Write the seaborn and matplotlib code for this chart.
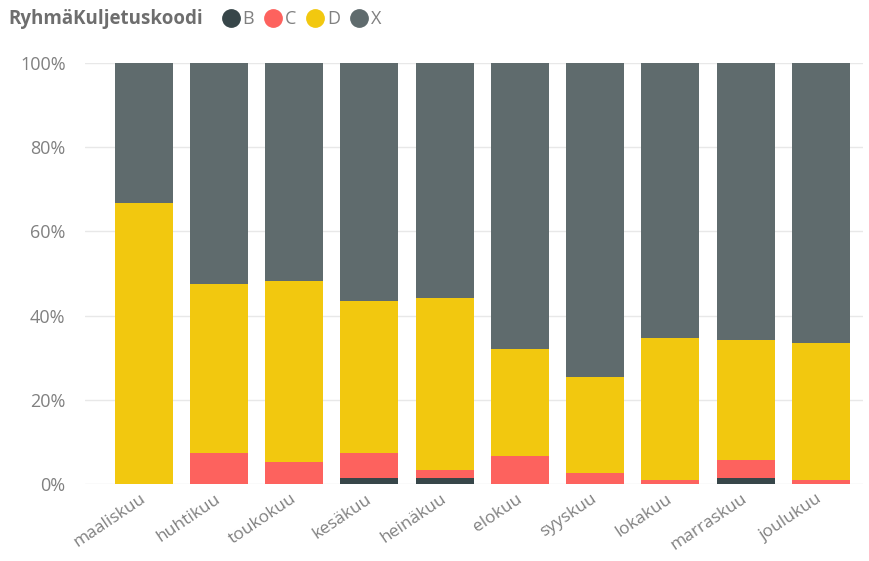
import matplotlib
matplotlib.use("Agg")
import matplotlib.pyplot as plt
import matplotlib.transforms as mtransforms
import seaborn as sns
import numpy as np
import pandas as pd
from matplotlib.lines import Line2D

months = ["maaliskuu", "huhtikuu", "toukokuu", "kesäkuu", "heinäkuu",
          "elokuu", "syyskuu", "lokakuu", "marraskuu", "joulukuu"]
B = [0.0, 0.0, 0.0, 1.4, 1.4, 0.0, 0.0, 0.0, 1.4, 0.0]
C = [0.0, 7.4, 5.2, 6.0, 1.9, 6.7, 2.6, 1.0, 4.3, 1.0]
D = [66.7, 40.1, 43.0, 36.1, 40.9, 25.4, 22.8, 33.7, 28.5, 32.5]
X = [33.3, 52.5, 51.8, 56.5, 55.8, 67.9, 74.6, 65.3, 65.8, 66.5]
series = ["B", "C", "D", "X"]
colors = {"B": "#374649", "C": "#FD625E", "D": "#F2C80F", "X": "#5F6B6D"}

sns.set_theme(style="white")
plt.rcParams['font.family'] = ['Open Sans', 'DejaVu Sans']

df = pd.DataFrame({"month": months, "B": B, "C": C, "D": D, "X": X})
vals = df[series].values
tot = vals.sum(axis=1, keepdims=True)
pct = vals / tot * 100
cum = np.cumsum(pct, axis=1)

fig = plt.figure(figsize=(8.7, 5.61), dpi=100)
ax = fig.add_axes([85/870, 1 - 484/561, (863-85)/870, (484-63)/561])

for i in range(len(series) - 1, -1, -1):
    d = pd.DataFrame({"month": months, "v": cum[:, i]})
    sns.barplot(data=d, x="month", y="v", color=colors[series[i]],
                width=0.77, saturation=1, ax=ax, linewidth=0, order=months)

ax.set_ylim(0, 100)
ax.set_xlim(-0.78, 9.56)
ax.set_yticks([0, 20, 40, 60, 80, 100])
ax.set_yticklabels([f"{v}%" for v in [0, 20, 40, 60, 80, 100]])
ax.yaxis.grid(True, color="#e8e8e8", linewidth=1)
ax.set_axisbelow(True)
for s in ax.spines.values():
    s.set_visible(False)
ax.set_xlabel("")
ax.set_ylabel("")
ax.tick_params(axis="y", colors="#808080", labelsize=13, length=0, pad=14)
ax.tick_params(axis="x", colors="#808080", labelsize=12.5, length=0, pad=5)
offset = mtransforms.ScaledTranslation(-4/100, 0, fig.dpi_scale_trans)
for lbl in ax.get_xticklabels():
    lbl.set_rotation(34)
    lbl.set_ha("right")
    lbl.set_rotation_mode("anchor")
    lbl.set_transform(lbl.get_transform() + offset)

handles = [Line2D([0], [0], marker="o", linestyle="", markersize=12.5,
                  markerfacecolor=colors[s], markeredgecolor=colors[s]) for s in series]
leg = fig.legend(handles, series, loc="center left", bbox_to_anchor=(220/870, 1 - 19/561),
                 ncol=4, frameon=False, handletextpad=0.05, columnspacing=0.45,
                 fontsize=13, labelcolor="#808080", handlelength=1.2,
                 borderaxespad=0, borderpad=0)
fig.text(8/870, 1 - 19/561, "RyhmäKuljetuskoodi", fontsize=13.5, fontweight="bold",
         color="#6e6e6e", va="center", ha="left")

fig.savefig("out.png", dpi=100)
